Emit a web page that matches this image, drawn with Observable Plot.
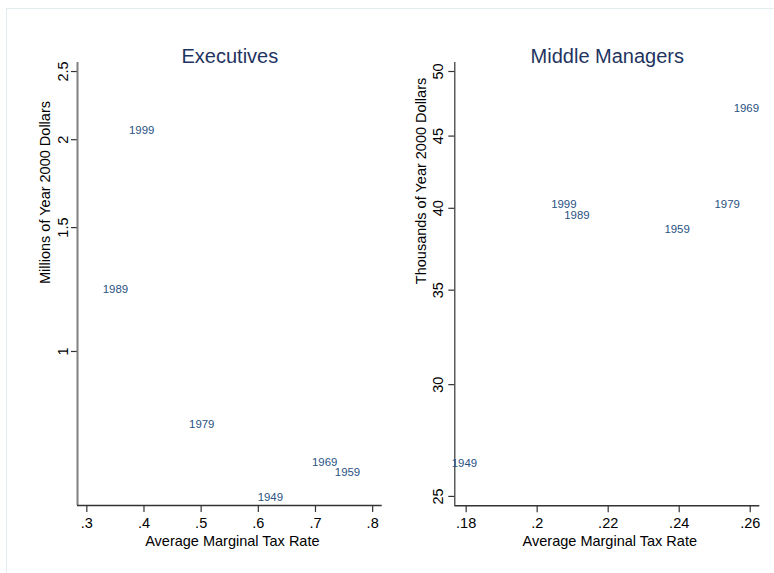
<!DOCTYPE html>
<html><head><meta charset="utf-8">
<script src="https://cdn.jsdelivr.net/npm/d3@7"></script>
<script src="https://cdn.jsdelivr.net/npm/@observablehq/plot@0.6"></script>
<style>
html,body{margin:0;padding:0;background:#fff;}
#wrap{position:relative;width:774px;height:573px;overflow:hidden;background:#fff;font-family:"Liberation Sans",Arial,sans-serif;}
#border{position:absolute;left:6px;top:8px;width:900px;height:900px;border-left:1px solid #e4ecef;border-top:1px solid #e4ecef;}
#left{position:absolute;left:0;top:0;}
#right{position:absolute;left:390px;top:0;}
</style></head><body>
<div id="wrap"><div id="border"></div><div id="left"></div><div id="right"></div></div>
<script>
const years = [1949, 1959, 1969, 1979, 1989, 1999];
const execTaxRate = [0.621, 0.756, 0.716, 0.501, 0.350, 0.396];
const execPay = [0.620, 0.673, 0.695, 0.787, 1.224, 2.062];
const mgrTaxRate = [0.1795, 0.2394, 0.2589, 0.2535, 0.2112, 0.2075];
const mgrPay = [26.38, 38.68, 47.1, 40.27, 39.53, 40.27];
const execXTicks = [0.3, 0.4, 0.5, 0.6, 0.7, 0.8];
const execYTicks = [1, 1.5, 2, 2.5];
const mgrXTicks = [0.18, 0.2, 0.22, 0.24, 0.26];
const mgrYTicks = [25, 30, 35, 40, 45, 50];
const titles = ["Executives", "Middle Managers"];
const yTitles = ["Millions of Year 2000 Dollars", "Thousands of Year 2000 Dollars"];
const xTitle = "Average Marginal Tax Rate";

const FONT = '"Liberation Sans", Arial, Helvetica, sans-serif';
const TITLE_COLOR = "#1f3461";
const LABEL_COLOR = "#2a5283";
const fmt = v => String(v).replace(/^0\./, ".");

function panel(o) {
  const rows = years.map((yr, i) => ({year: String(yr), x: o.tax[i], y: o.pay[i]}));
  return Plot.plot({
    width: o.width, height: 573,
    marginLeft: o.ml, marginRight: o.mr, marginTop: 62, marginBottom: o.mb,
    x: {domain: o.xDomain},
    y: {type: "log", domain: o.yDomain},
    style: {fontFamily: FONT, background: "transparent", color: "#000", overflow: "visible"},
    marks: [
      Plot.axisX(o.xTicks, {tickSize: 7, tickFormat: () => "", label: null, stroke: "#333", strokeWidth: 1.2}),
      Plot.axisY(o.yTicks, {tickSize: 6, tickFormat: () => "", label: null, stroke: "#333", strokeWidth: 1.2}),
      Plot.ruleX([o.xDomain[0]], {stroke: o.yAxisColor, strokeWidth: o.yAxisWidth}),
      Plot.ruleY([o.yDomain[0]], {stroke: "#333", strokeWidth: 1.5}),
      Plot.text(o.xTicks, {x: d => d, text: fmt, frameAnchor: "bottom", dy: 17.7, lineAnchor: "middle", textAnchor: "middle", fontSize: 14.5, fill: "#000"}),
      Plot.text(o.yTicks, {y: d => d, text: d => String(d), frameAnchor: "left", dx: o.yTickDx, rotate: -90, lineAnchor: "middle", textAnchor: "middle", fontSize: 14.5, fill: "#000"}),
      Plot.text(rows, {x: "x", y: "y", text: "year", fill: LABEL_COLOR, fontSize: 11.4, textAnchor: "middle", lineAnchor: "middle"}),
      Plot.text([o.title], {frameAnchor: "top", dy: -13.4, fontSize: 20, fill: TITLE_COLOR}),
      Plot.text([xTitle], {frameAnchor: "bottom", dy: 36, dx: 2.5, fontSize: 14.5, fill: "#000", lineAnchor: "middle"}),
      Plot.text([o.yTitle], {frameAnchor: "left", dx: o.yTitleDx, rotate: -90, fontSize: 14.5, fill: "#000", lineAnchor: "middle"})
    ]
  });
}

document.getElementById("left").appendChild(panel({
  width: 390, ml: 77, mr: 8.3, mb: 68,
  xDomain: [0.2837, 0.8167], yDomain: [0.604, 2.575],
  xTicks: execXTicks, yTicks: execYTicks,
  tax: execTaxRate, pay: execPay,
  title: titles[0], yTitle: yTitles[0],
  yAxisColor: "#808080", yAxisWidth: 2,
  yTickDx: -14, yTitleDx: -32
}));

document.getElementById("right").appendChild(panel({
  width: 384, ml: 64.3, mr: 14.7, mb: 67.7,
  xDomain: [0.1768, 0.2627], yDomain: [24.62, 50.74],
  xTicks: mgrXTicks, yTicks: mgrYTicks,
  tax: mgrTaxRate, pay: mgrPay,
  title: titles[1], yTitle: yTitles[1],
  yAxisColor: "#333", yAxisWidth: 1.2,
  yTickDx: -16.5, yTitleDx: -33
}));
</script>
</body></html>
